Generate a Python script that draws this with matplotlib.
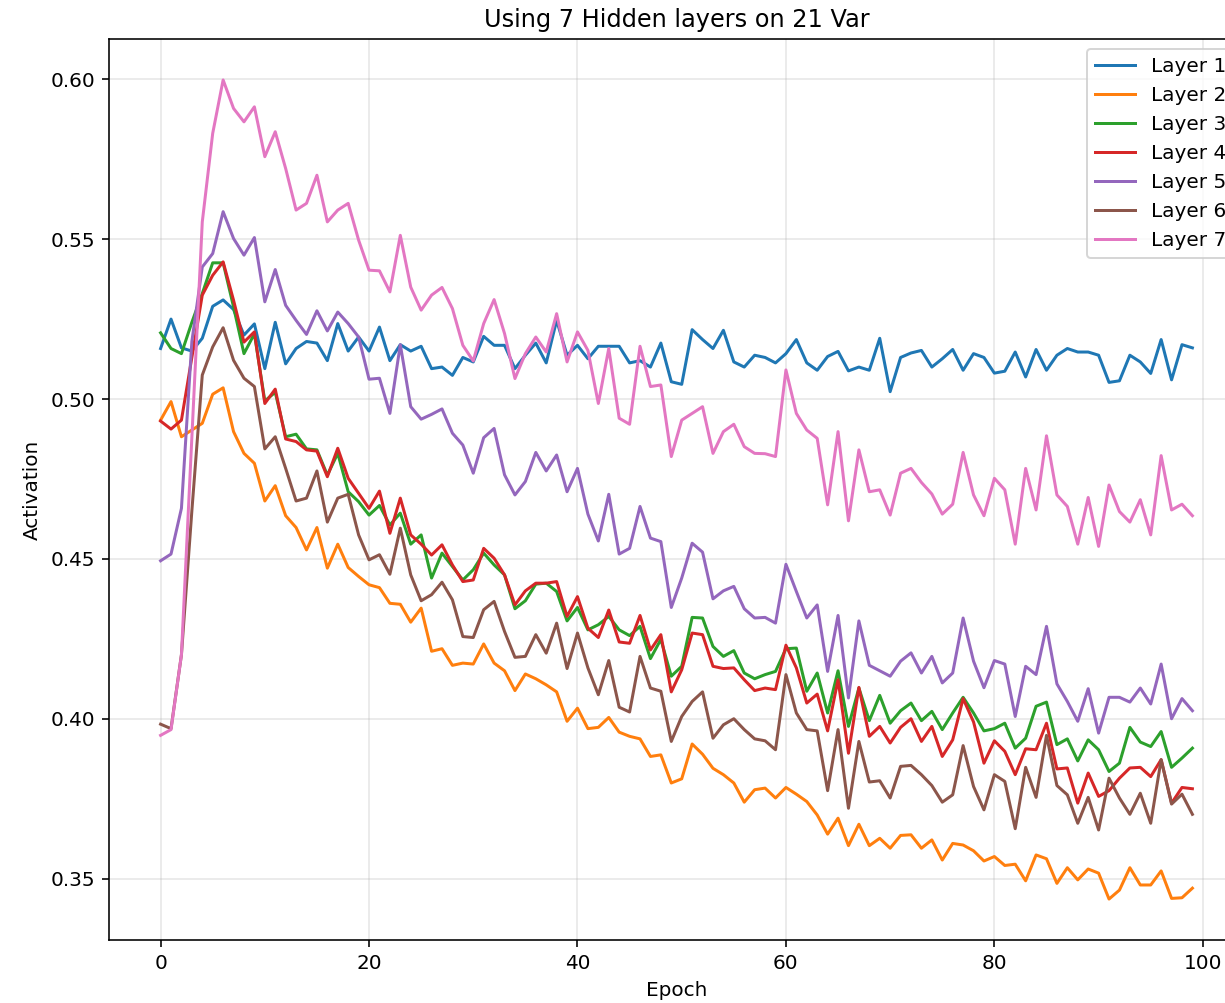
import numpy as np
import matplotlib
matplotlib.use('Agg')
import matplotlib.pyplot as plt

epochs = np.arange(100)

layer1 = [0.5158, 0.525, 0.516, 0.515, 0.519, 0.529, 0.531, 0.528, 0.520, 0.5235,
          0.5095, 0.524, 0.511, 0.5158, 0.518, 0.5175, 0.512, 0.5236, 0.515, 0.5194,
          0.515, 0.5225, 0.512, 0.517, 0.515, 0.5165, 0.5095, 0.510, 0.5074, 0.513,
          0.5116, 0.5196, 0.5168, 0.5168, 0.5095, 0.5137, 0.5175, 0.5113, 0.5246, 0.5137,
          0.5168, 0.5126, 0.5165, 0.5165, 0.5165, 0.5113, 0.512, 0.510, 0.5175, 0.5054,
          0.5046, 0.5217, 0.5186, 0.5158, 0.5215, 0.5116, 0.510, 0.5137, 0.513, 0.5113,
          0.5142, 0.5186, 0.5113, 0.509, 0.5133, 0.5149, 0.5088, 0.510, 0.509, 0.519,
          0.5023, 0.513, 0.5144, 0.5152, 0.510, 0.5126, 0.5155, 0.509, 0.5142, 0.513,
          0.5081, 0.5087, 0.5147, 0.5069, 0.5155, 0.509, 0.5137, 0.5158, 0.5147, 0.5147,
          0.5137, 0.5052, 0.5057, 0.5137, 0.5116, 0.508, 0.5186, 0.506, 0.517, 0.516]

layer2 = [0.4934, 0.4992, 0.4882, 0.4903, 0.4924, 0.5015, 0.5035, 0.4898, 0.483, 0.4799,
          0.4681, 0.4729, 0.4635, 0.4598, 0.4528, 0.4598, 0.4471, 0.4546, 0.4473, 0.4445,
          0.4419, 0.441, 0.4361, 0.4358, 0.4302, 0.4346, 0.4211, 0.4219, 0.4167, 0.4174,
          0.4171, 0.4234, 0.4174, 0.415, 0.4088, 0.414, 0.4125, 0.4106, 0.4084, 0.3992,
          0.4033, 0.3969, 0.3973, 0.4004, 0.3958, 0.3945, 0.3937, 0.3882, 0.3887, 0.3799,
          0.3812, 0.3921, 0.3889, 0.3845, 0.3825, 0.3799, 0.3739, 0.3778, 0.3783, 0.3752,
          0.3785, 0.3764, 0.3741, 0.3699, 0.3639, 0.3689, 0.3603, 0.367, 0.3603, 0.3626,
          0.3595, 0.3635, 0.3637, 0.3595, 0.3621, 0.3558, 0.361, 0.3605, 0.3587, 0.3555,
          0.3569, 0.3541, 0.3545, 0.3493, 0.3574, 0.3562, 0.3485, 0.3534, 0.3496, 0.353,
          0.3517, 0.3436, 0.3464, 0.3534, 0.348, 0.348, 0.3524, 0.3438, 0.344, 0.347]

layer3 = [0.5207, 0.5158, 0.5142, 0.524, 0.533, 0.5426, 0.5426, 0.5288, 0.5142, 0.5204,
          0.4994, 0.5021, 0.4882, 0.489, 0.4844, 0.4841, 0.4762, 0.483, 0.471, 0.4679,
          0.4637, 0.4667, 0.4606, 0.4643, 0.4546, 0.4575, 0.444, 0.4518, 0.4476, 0.4434,
          0.4466, 0.4518, 0.4481, 0.445, 0.4344, 0.4369, 0.4421, 0.4424, 0.4398, 0.4306,
          0.4348, 0.4278, 0.4294, 0.432, 0.4278, 0.426, 0.4289, 0.4188, 0.4248, 0.4133,
          0.4164, 0.4317, 0.4315, 0.4226, 0.4195, 0.4213, 0.4143, 0.4125, 0.4138, 0.4148,
          0.4219, 0.4221, 0.4086, 0.4143, 0.4018, 0.415, 0.3976, 0.4096, 0.3994, 0.4073,
          0.3986, 0.4025, 0.4049, 0.3994, 0.4023, 0.3966, 0.4018, 0.4067, 0.4018, 0.3962,
          0.3969, 0.3986, 0.3908, 0.3939, 0.4039, 0.4052, 0.3919, 0.3937, 0.3868, 0.3934,
          0.3903, 0.3835, 0.3861, 0.3973, 0.3927, 0.3913, 0.396, 0.3848, 0.3877, 0.3908]

layer4 = [0.4931, 0.4906, 0.4934, 0.513, 0.5325, 0.5387, 0.5429, 0.5309, 0.5178, 0.521,
          0.4986, 0.5031, 0.4875, 0.4867, 0.4841, 0.4837, 0.4757, 0.4846, 0.4752, 0.4705,
          0.4658, 0.4712, 0.458, 0.469, 0.4575, 0.4546, 0.4512, 0.4544, 0.4481, 0.4429,
          0.4434, 0.4533, 0.4502, 0.445, 0.4356, 0.44, 0.4424, 0.4424, 0.4429, 0.432,
          0.4382, 0.4283, 0.4254, 0.434, 0.424, 0.4236, 0.4323, 0.4215, 0.4263, 0.4084,
          0.4153, 0.4268, 0.4263, 0.4164, 0.4157, 0.4159, 0.4122, 0.4088, 0.4096, 0.4091,
          0.423, 0.4159, 0.4049, 0.4077, 0.3962, 0.4122, 0.3892, 0.4098, 0.3945, 0.3976,
          0.3924, 0.3973, 0.40, 0.3929, 0.3976, 0.3882, 0.3934, 0.4063, 0.399, 0.3861,
          0.3931, 0.3898, 0.3825, 0.3906, 0.3903, 0.3986, 0.3843, 0.3846, 0.3736, 0.383,
          0.3757, 0.3775, 0.3814, 0.3846, 0.3848, 0.3819, 0.3872, 0.3736, 0.3785, 0.3781]

layer5 = [0.4494, 0.4515, 0.4658, 0.518, 0.5413, 0.5455, 0.5586, 0.5502, 0.545, 0.5505,
          0.5304, 0.5405, 0.5293, 0.5246, 0.5202, 0.5276, 0.5213, 0.5272, 0.5236, 0.5194,
          0.5062, 0.5065, 0.4955, 0.517, 0.4976, 0.4937, 0.4952, 0.4969, 0.4893, 0.4856,
          0.4768, 0.4879, 0.4908, 0.4763, 0.47, 0.4742, 0.4833, 0.4775, 0.4825, 0.471,
          0.4783, 0.464, 0.4556, 0.4702, 0.4515, 0.4533, 0.4664, 0.4565, 0.4554, 0.4348,
          0.444, 0.4549, 0.4521, 0.4375, 0.44, 0.4414, 0.4344, 0.4315, 0.4317, 0.4299,
          0.4483, 0.4398, 0.4315, 0.4356, 0.4148, 0.4323, 0.4065, 0.4306, 0.4167, 0.415,
          0.4133, 0.418, 0.4206, 0.4143, 0.4195, 0.4112, 0.4143, 0.4315, 0.418, 0.4097,
          0.4182, 0.4171, 0.4007, 0.4164, 0.4138, 0.4289, 0.4109, 0.4054, 0.3992, 0.4094,
          0.3955, 0.4067, 0.4067, 0.4052, 0.4096, 0.4046, 0.4171, 0.40, 0.4063, 0.4025]

layer6 = [0.3983, 0.3969, 0.420, 0.465, 0.5075, 0.5163, 0.5223, 0.5121, 0.5065, 0.5039,
          0.4844, 0.4882, 0.4783, 0.4681, 0.469, 0.4775, 0.4615, 0.469, 0.4702, 0.4575,
          0.4497, 0.4513, 0.4452, 0.4596, 0.445, 0.4369, 0.4388, 0.4427, 0.4372, 0.4257,
          0.4254, 0.4341, 0.4367, 0.4273, 0.4192, 0.4195, 0.4263, 0.4205, 0.4299, 0.4157,
          0.4268, 0.4159, 0.4075, 0.4182, 0.4036, 0.4021, 0.4195, 0.4096, 0.4086, 0.3929,
          0.4007, 0.4054, 0.4084, 0.3939, 0.3981, 0.40, 0.3966, 0.3937, 0.3931, 0.3903,
          0.4138, 0.4018, 0.3966, 0.3962, 0.3775, 0.3966, 0.372, 0.3929, 0.3802, 0.3806,
          0.3752, 0.3851, 0.3854, 0.3825, 0.3791, 0.3739, 0.3762, 0.3916, 0.3788, 0.3715,
          0.3825, 0.3804, 0.3656, 0.3848, 0.3754, 0.3948, 0.3791, 0.3762, 0.3673, 0.3754,
          0.3652, 0.3814, 0.3752, 0.3701, 0.3767, 0.3673, 0.3872, 0.3733, 0.3764, 0.3701]

layer7 = [0.3948, 0.3966, 0.420, 0.488, 0.5554, 0.5831, 0.5998, 0.5909, 0.5867, 0.5914,
          0.5758, 0.5836, 0.5721, 0.5591, 0.5612, 0.570, 0.5554, 0.5591, 0.5612, 0.5497,
          0.5403, 0.5401, 0.5335, 0.5512, 0.535, 0.5278, 0.5325, 0.5349, 0.5283, 0.5168,
          0.5119, 0.5236, 0.5311, 0.5205, 0.5064, 0.5142, 0.5194, 0.5147, 0.5267, 0.5116,
          0.521, 0.5152, 0.4986, 0.5158, 0.494, 0.4921, 0.5165, 0.5039, 0.5044, 0.482,
          0.4934, 0.4955, 0.4976, 0.483, 0.4898, 0.4921, 0.4851, 0.483, 0.4829, 0.482,
          0.5091, 0.4955, 0.4903, 0.4877, 0.4669, 0.4898, 0.4619, 0.4841, 0.471, 0.4716,
          0.4637, 0.4768, 0.4783, 0.4739, 0.4703, 0.464, 0.4671, 0.4833, 0.47, 0.4635,
          0.4752, 0.4716, 0.4546, 0.4783, 0.4653, 0.4885, 0.47, 0.4664, 0.4546, 0.4692,
          0.4539, 0.4731, 0.4648, 0.4615, 0.4685, 0.4575, 0.4823, 0.4653, 0.4671, 0.4635]

layers = [layer1, layer2, layer3, layer4, layer5, layer6, layer7]
labels = ['Layer 1', 'Layer 2', 'Layer 3', 'Layer 4', 'Layer 5', 'Layer 6', 'Layer 7']

dpi = 144
fig = plt.figure(figsize=(1225 / dpi, 1003 / dpi), dpi=dpi)
# axes run past the right edge of the picture, as in the reference
ax = fig.add_axes([109 / 1225, 63 / 1003, 1135 / 1225, 901 / 1003])

for values, label in zip(layers, labels):
    ax.plot(epochs, values, label=label)

ax.set_title('Using 7 Hidden layers on 21 Var')
ax.set_xlabel('Epoch')
ax.set_ylabel('Activation')
ax.grid(True, alpha=0.3)
ax.legend(loc='upper right')

fig.savefig('out.png', dpi=dpi)
